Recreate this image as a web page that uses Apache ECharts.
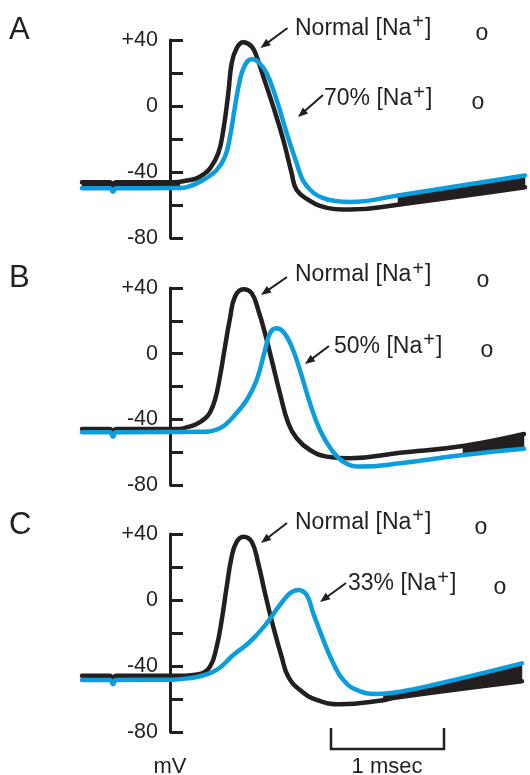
<!DOCTYPE html>
<html><head><meta charset="utf-8">
<script src="https://cdn.jsdelivr.net/npm/echarts@6/dist/echarts.min.js"></script>
<style>html,body{margin:0;padding:0;background:#fff}#c{width:530px;height:775px}</style>
</head><body><div id="c"></div>
<script>
// ---- data (time in ms, membrane potential in mV) ----
const aBlackT = [-0.779,-0.531,-0.504,-0.478,0.027,0.150,0.236,0.295,0.354,0.427,0.472,0.516,0.546,0.590,0.649,0.723,0.767,0.826,0.914,1.003,1.077,1.121,1.239,1.327,1.460,1.593,2.018,3.142];
const aBlackV = [-46.2,-46.2,-47.6,-46.2,-46.2,-45.2,-43.8,-41.5,-37.8,-28.7,-14.5,7.7,25.9,35,38.6,36,29.9,17.8,-0.4,-20.6,-40.8,-50.9,-57.5,-60.5,-62.5,-62.8,-59.8,-49.3];
const aBlueT = [-0.779,-0.531,-0.504,-0.478,0.088,0.150,0.295,0.413,0.487,0.531,0.575,0.619,0.664,0.723,0.781,0.856,0.944,1.033,1.121,1.180,1.268,1.357,1.460,1.593,2.018,3.142];
const aBlueV = [-49.9,-49.9,-52,-49.9,-49.7,-49.2,-44.8,-38.8,-30.7,-18.6,-0.4,15.8,24.8,28.3,26.8,19.8,3.6,-16.5,-34.7,-45.5,-52.5,-55.8,-57.5,-58.2,-54.2,-42.1];
const aRestBandT = [-0.779,0.088];
const aRestBandLow = [-49.9,-49.7];
const aRestBandHigh = [-46.2,-46.2];
const aBandT = [2.018,3.142];
const aBandLow = [-59.8,-49.3];
const aBandHigh = [-54.2,-42.1];

const bBlackT = [-0.779,-0.531,-0.504,-0.478,0.088,0.150,0.236,0.310,0.354,0.398,0.442,0.487,0.531,0.575,0.649,0.723,0.781,0.841,0.900,0.973,1.047,1.121,1.239,1.387,1.593,2.035,2.593,3.133];
const bBlackV = [-45.9,-45.9,-47.3,-45.9,-45.9,-44.8,-42.8,-39.5,-35.8,-28.2,-14,4.3,21.5,34.7,39.2,36.8,26.6,12.4,-3.8,-24.1,-42.4,-51.5,-58.7,-62.7,-63.7,-60.4,-56.2,-48.9];
const bBlueT = [-0.779,-0.531,-0.504,-0.478,0.265,0.442,0.560,0.679,0.767,0.841,0.885,0.938,1.003,1.077,1.150,1.239,1.327,1.431,1.534,1.681,2.035,2.593,3.133];
const bBlueV = [-47.9,-47.9,-50.5,-47.9,-47.6,-45.4,-38.4,-28.2,-16,2.2,12.4,15.5,13.4,4.3,-10,-30.2,-46.5,-58.7,-65.8,-68.8,-66.8,-61.7,-57.9];
const bBandT = [2.593,3.133];
const bBandLow = [-61.7,-57.9];
const bBandHigh = [-56.2,-48.9];

const cBlackT = [-0.779,-0.531,-0.504,-0.478,0.088,0.265,0.354,0.413,0.458,0.502,0.546,0.590,0.649,0.723,0.781,0.841,0.914,0.988,1.047,1.150,1.298,1.504,1.888,1.973,3.115];
const cBlackV = [-45.9,-45.9,-47.3,-45.9,-45.9,-44.8,-40.4,-28.3,-12.1,8.1,26.2,35.3,38.4,35.3,22.2,4.1,-16.2,-34.4,-46.5,-54.5,-60.6,-63.2,-60.8,-59.4,-49.3];
const cBlueT = [-0.779,-0.531,-0.504,-0.478,0.027,0.150,0.265,0.413,0.560,0.708,0.856,0.973,1.062,1.135,1.210,1.268,1.357,1.445,1.534,1.652,1.829,2.035,2.327,3.115];
const cBlueV = [-48.5,-48.5,-51,-48.5,-48.3,-47.5,-46.2,-42.4,-33.3,-25.3,-14.1,-3,4.1,6.1,3,-8.1,-24.2,-38.4,-48.5,-54.5,-57,-55.6,-51.5,-38.4];
const cBandT = [1.888,2.035,2.327,3.115];
const cBandLow = [-60.8,-58.9,-56.3,-49.3];
const cBandHigh = [-56.7,-55.6,-51.5,-38.4];

const tickValues = [40, 0, -40, -80];
const tickLabels = ['+40', '0', '-40', '-80'];
const panelLetters = ['A', 'B', 'C'];
const normalLabel = 'Normal';
const lowNaLabels = ['70%', '50%', '33%'];
const scaleLabel = '1 msec';
const unitLabel = 'mV';

// ---- styling / layout ----
const FONT = '"Liberation Sans", Arial, Helvetica, sans-serif';
const INK = '#231f20';
const BLUE = '#0c9ddc';
const grids = [
  {top: 40, height: 198},
  {top: 288, height: 197},
  {top: 534, height: 198}
];
const GRID_LEFT = 79.6, GRID_W = 449.7, AXIS_X = 170;

const panels = [
  {bt: aBlackT, bv: aBlackV, ut: aBlueT, uv: aBlueV,
   bands: [[aRestBandT, aRestBandLow, aRestBandHigh], [aBandT, aBandLow, aBandHigh]]},
  {bt: bBlackT, bv: bBlackV, ut: bBlueT, uv: bBlueV,
   bands: [[bBandT, bBandLow, bBandHigh]]},
  {bt: cBlackT, bv: cBlackV, ut: cBlueT, uv: cBlueV,
   bands: [[cBandT, cBandLow, cBandHigh]]}
];

function zip(a, b) { return a.map((x, i) => [x, b[i]]); }

function bandSeries(gi, xs, lows, highs) {
  return {
    type: 'custom', xAxisIndex: gi, yAxisIndex: gi, z: 1, silent: true, clip: false,
    data: xs.map((x, i) => [x, lows[i], highs[i]]),
    encode: {x: 0, y: [1, 2]},
    renderItem: function (params, api) {
      if (params.dataIndex !== 0) return null;
      const pts = [];
      for (let i = 0; i < xs.length; i++) pts.push(api.coord([xs[i], highs[i]]));
      for (let i = xs.length - 1; i >= 0; i--) pts.push(api.coord([xs[i], lows[i]]));
      return {type: 'polygon', shape: {points: pts}, style: {fill: INK, stroke: INK, lineWidth: 0.5}};
    }
  };
}

const series = [];
panels.forEach((p, gi) => {
  p.bands.forEach(b => series.push(bandSeries(gi, b[0], b[1], b[2])));
  series.push({type: 'line', xAxisIndex: gi, yAxisIndex: gi, data: zip(p.bt, p.bv),
    showSymbol: false, smooth: 0.45, clip: false, z: 2, silent: true,
    lineStyle: {color: INK, width: 4.5, cap: 'round', join: 'round'}});
  series.push({type: 'line', xAxisIndex: gi, yAxisIndex: gi, data: zip(p.ut, p.uv),
    showSymbol: false, smooth: 0.45, clip: false, z: 3, silent: true,
    lineStyle: {color: BLUE, width: 4.5, cap: 'round', join: 'round'}});
});

const gridOpts = grids.map(g => ({left: GRID_LEFT, width: GRID_W, top: g.top, height: g.height, outerBoundsMode: 'none', containLabel: false}));
const xAxes = grids.map((g, i) => ({gridIndex: i, type: 'value', min: -0.8, max: 3.18, show: false}));
const yAxes = grids.map((g, i) => ({
  gridIndex: i, type: 'value', min: -80, max: 40, interval: 20, position: 'left',
  offset: -(AXIS_X - GRID_LEFT),
  axisLine: {show: true, onZero: false, lineStyle: {color: INK, width: 3}},
  axisTick: {show: true, inside: true, length: 13, lineStyle: {color: INK, width: 3}},
  axisLabel: {show: true, margin: 12, fontSize: 21.5, fontFamily: FONT, color: INK,
    formatter: v => { const k = tickValues.indexOf(v); return k >= 0 ? tickLabels[k] : ''; }},
  splitLine: {show: false}
}));

// ---- annotations (text + arrows), positioned in pixels ----
const graphics = [];
function txt(x, y, text, size, align) {
  graphics.push({type: 'text', x: x, y: y, silent: true,
    style: {text: text, fill: INK, font: size + 'px ' + FONT, align: align || 'left', verticalAlign: 'middle'}});
}
function naTxt(x, y, prefix) {
  graphics.push({type: 'text', x: x, y: y, silent: true,
    style: {text: '{a|' + prefix + ' [Na}{s|+}{a|]}', fill: INK, align: 'left', verticalAlign: 'middle',
      rich: {a: {fontSize: 23, fontFamily: FONT, lineHeight: 32, fill: INK},
             s: {fontSize: 20, fontFamily: FONT, lineHeight: 20, verticalAlign: 'top', fill: INK, padding: [0, 1, 0, 1]}}}});
}
function arrow(t, h) {
  const dx = h[0] - t[0], dy = h[1] - t[1], len = Math.hypot(dx, dy);
  const ux = dx / len, uy = dy / len, L = 10, W = 4;
  const bx = h[0] - ux * L, by = h[1] - uy * L;
  graphics.push({type: 'line', silent: true, shape: {x1: t[0], y1: t[1], x2: bx + ux, y2: by + uy},
    style: {stroke: INK, lineWidth: 2}});
  graphics.push({type: 'polygon', silent: true,
    shape: {points: [[h[0], h[1]], [bx - uy * W, by + ux * W], [bx + uy * W, by - ux * W]]},
    style: {fill: INK}});
}

const letterY = [30.5, 278, 525];
const normalPos = [[295, 28.5], [295, 275], [295, 522.5]];
const lowPos = [[324, 99], [334, 346.5], [348, 584]];
const oPos = [[482, 34], [478, 103], [483, 281], [487, 351], [481, 528], [500, 588]];
const arrowTails = [[287.5, 28], [323, 95], [287, 277], [329, 346], [287, 523], [346, 583]];
const arrowHeads = [[260.5, 48], [298, 117], [261, 295], [305, 364], [261, 543], [320, 602]];

panelLetters.forEach((L, i) => txt(9, letterY[i], L, 31));
normalPos.forEach(p => naTxt(p[0], p[1], normalLabel));
lowPos.forEach((p, i) => naTxt(p[0], p[1], lowNaLabels[i]));
oPos.forEach(p => txt(p[0], p[1], 'o', 23, 'center'));
arrowTails.forEach((t, i) => arrow(t, arrowHeads[i]));
txt(170, 767, unitLabel, 22, 'center');
txt(387, 767, scaleLabel, 22, 'center');
graphics.push({type: 'polyline', silent: true,
  shape: {points: [[331, 728], [331, 749], [444, 749], [444, 728]]},
  style: {stroke: INK, lineWidth: 2.5, fill: null}});

const chart = echarts.init(document.getElementById('c'), null, {renderer: 'canvas'});
chart.setOption({
  animation: false,
  backgroundColor: '#ffffff',
  grid: gridOpts,
  xAxis: xAxes,
  yAxis: yAxes,
  series: series,
  graphic: graphics
});
</script></body></html>
